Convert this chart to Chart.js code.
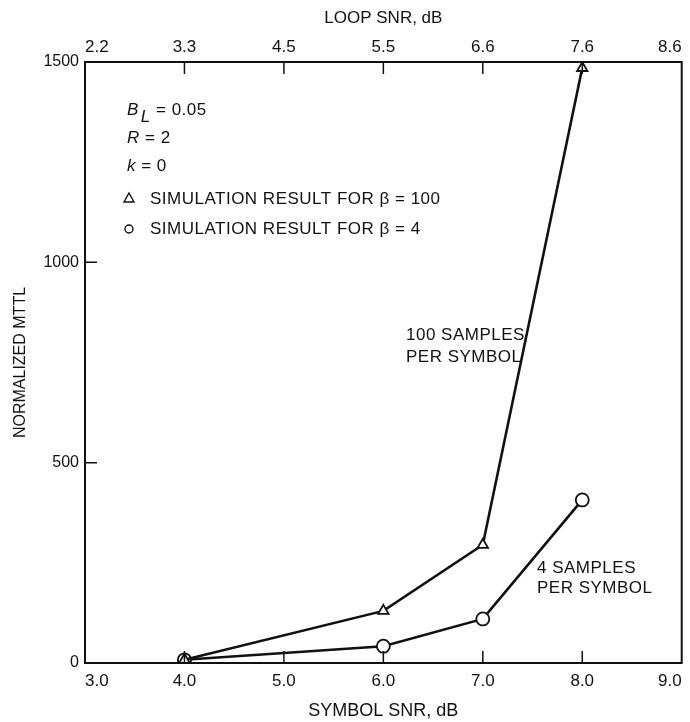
<!DOCTYPE html>
<html>
<head>
<meta charset="utf-8">
<script src="https://cdn.jsdelivr.net/npm/chart.js@4"></script>
<style>
  html, body { margin: 0; padding: 0; background: #fff; }
  #wrap { width: 690px; height: 722px; }
</style>
</head>
<body>
<div id="wrap"><canvas id="grafico"></canvas></div>
<script>
// datos
const symbolSnr = [4, 6, 7, 8];
const mttlBeta100 = [8, 130, 295, 1485];
const mttlBeta4 = [8, 42, 110, 407];
const xTicks = [3, 4, 5, 6, 7, 8, 9];
const loopSnrLabels = ['2.2', '3.3', '4.5', '5.5', '6.6', '7.6', '8.6'];
const yTicks = [0, 500, 1000, 1500];

const fuente = '"Liberation Sans", Arial, sans-serif';
const negro = '#111';

function puntos(xs, ys) {
  let out = [];
  for (let i = 0; i < xs.length; i++) out.push({x: xs[i], y: ys[i]});
  return out;
}

// marco, marcas interiores y textos
const extras = {
  id: 'extras',
  afterDraw(chart) {
    const ctx = chart.ctx;
    const a = chart.chartArea;
    const sx = chart.scales.x, sy = chart.scales.y;
    ctx.save();
    ctx.strokeStyle = negro;
    ctx.lineWidth = 2;
    ctx.strokeRect(a.left, a.top, a.right - a.left, a.bottom - a.top);
    ctx.lineWidth = 1.5;
    ctx.beginPath();
    for (let v = 4; v <= 8; v++) {
      let px = sx.getPixelForValue(v);
      ctx.moveTo(px, a.bottom); ctx.lineTo(px, a.bottom - 12);
      ctx.moveTo(px, a.top); ctx.lineTo(px, a.top + 12);
    }
    [500, 1000].forEach(v => {
      let py = sy.getPixelForValue(v);
      ctx.moveTo(a.left, py); ctx.lineTo(a.left + 12, py);
    });
    ctx.stroke();

    ctx.fillStyle = negro;
    ctx.textBaseline = 'middle';
    ctx.textAlign = 'left';
    ctx.letterSpacing = '0.5px';
    let x0 = 127;
    // B_L = 0.05
    ctx.font = 'italic 17px ' + fuente;
    ctx.fillText('B', x0, 110);
    let w = ctx.measureText('B').width;
    ctx.fillText('L', x0 + w + 2, 117);
    let w2 = ctx.measureText('L').width;
    ctx.font = '17px ' + fuente;
    ctx.fillText(' = 0.05', x0 + w + w2 + 2, 110);
    ctx.font = 'italic 17px ' + fuente;
    ctx.fillText('R', x0, 138);
    w = ctx.measureText('R').width;
    ctx.font = '17px ' + fuente;
    ctx.fillText(' = 2', x0 + w, 138);
    ctx.font = 'italic 17px ' + fuente;
    ctx.fillText('k', x0, 166);
    w = ctx.measureText('k').width;
    ctx.font = '17px ' + fuente;
    ctx.fillText(' = 0', x0 + w, 166);

    ctx.fillText('SIMULATION RESULT FOR \u03b2 = 100', 150, 199);
    ctx.fillText('SIMULATION RESULT FOR \u03b2 = 4', 150, 229);
    // simbolos de la leyenda
    ctx.lineWidth = 1.4;
    ctx.beginPath();
    ctx.moveTo(129, 193); ctx.lineTo(134, 202); ctx.lineTo(124, 202); ctx.closePath();
    ctx.stroke();
    ctx.beginPath();
    ctx.arc(129, 229, 4, 0, Math.PI * 2);
    ctx.stroke();

    ctx.fillText('100 SAMPLES', 406, 335);
    ctx.fillText('PER SYMBOL', 406, 357);
    ctx.fillText('4 SAMPLES', 537, 568);
    ctx.fillText('PER SYMBOL', 537, 588);
    ctx.restore();
  }
};

new Chart(document.getElementById('grafico'), {
  type: 'scatter',
  data: {
    datasets: [{
      label: 'beta = 100',
      data: puntos(symbolSnr, mttlBeta100),
      showLine: true,
      borderColor: negro,
      borderWidth: 2.6,
      pointStyle: 'triangle',
      pointRadius: 6,
      pointBorderWidth: 1.8,
      pointBackgroundColor: '#fff',
      pointBorderColor: negro
    }, {
      label: 'beta = 4',
      data: puntos(symbolSnr, mttlBeta4),
      showLine: true,
      borderColor: negro,
      borderWidth: 2.6,
      pointStyle: 'circle',
      pointRadius: 6.5,
      pointBorderWidth: 1.8,
      pointBackgroundColor: '#fff',
      pointBorderColor: negro
    }]
  },
  options: {
    responsive: true,
    maintainAspectRatio: false,
    animation: false,
    layout: { padding: { left: 0, right: 5, top: 0, bottom: 0 } },
    plugins: { legend: { display: false }, tooltip: { enabled: false } },
    scales: {
      x: {
        type: 'linear', position: 'bottom', min: 3, max: 9,
        afterBuildTicks: s => { s.ticks = xTicks.map(v => ({value: v})); },
        afterFit: s => { s.height = 59; s.paddingLeft = 0; s.paddingRight = 0; },
        grid: { display: false, drawTicks: false, tickLength: 0 }, border: { display: false },
        ticks: { color: negro, padding: 8, align: 'inner', font: { family: fuente, size: 17 },
          maxRotation: 0, callback: v => v.toFixed(1) },
        title: { display: true, text: 'SYMBOL SNR, dB', color: negro,
          font: { family: fuente, size: 18 }, padding: { top: 0, bottom: 0 } }
      },
      x2: {
        type: 'linear', position: 'top', min: 3, max: 9,
        afterBuildTicks: s => { s.ticks = xTicks.map(v => ({value: v})); },
        afterFit: s => { s.height = 62; s.paddingLeft = 0; s.paddingRight = 0; },
        grid: { display: false, drawTicks: false, tickLength: 0 }, border: { display: false },
        ticks: { color: negro, padding: 4, align: 'inner', font: { family: fuente, size: 17 },
          maxRotation: 0, callback: (v, i) => loopSnrLabels[i] },
        title: { display: true, text: 'LOOP SNR, dB', color: negro,
          font: { family: fuente, size: 17 }, padding: { top: 8, bottom: 0 } }
      },
      y: {
        type: 'linear', min: 0, max: 1500,
        afterBuildTicks: s => { s.ticks = yTicks.map(v => ({value: v})); },
        afterFit: s => { s.width = 85; s.paddingTop = 0; s.paddingBottom = 0; },
        grid: { display: false, drawTicks: false, tickLength: 0 }, border: { display: false },
        ticks: { color: negro, padding: 6, font: { family: fuente, size: 16 },
          callback: v => String(v) },
        title: { display: true, text: 'NORMALIZED MTTL', color: negro,
          font: { family: fuente, size: 16 }, padding: { top: 11, bottom: 0 } }
      }
    }
  },
  plugins: [extras]
});
</script>
</body>
</html>
